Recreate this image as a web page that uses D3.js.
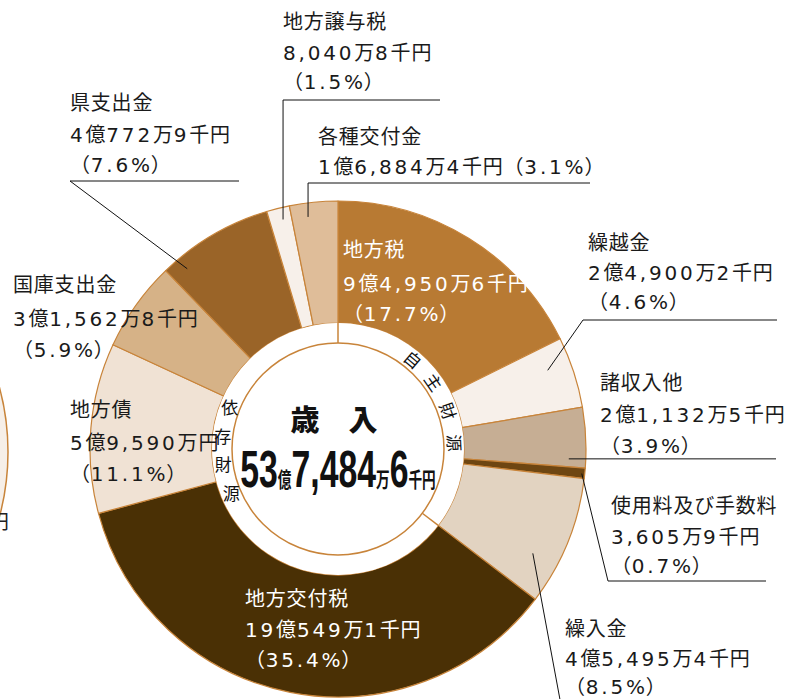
<!DOCTYPE html>
<html>
<head>
<meta charset="utf-8">
<script src="https://d3js.org/d3.v7.min.js"></script>
<style>
  body { margin: 0; background: #fff; }
  svg { display: block; }
  .lbl { font-family: "DejaVu Sans", "Noto Sans CJK JP", sans-serif; font-size: 20px; }
</style>
</head>
<body>
<div id="chart"></div>
<script>
// 歳入の内訳（千円）
const categories = ["地方税", "繰越金", "諸収入他", "使用料及び手数料", "繰入金", "地方交付税", "地方債", "国庫支出金", "県支出金", "地方譲与税", "各種交付金"];
const amounts = [949506, 249002, 211325, 36059, 454954, 1905491, 595900, 315628, 407729, 80408, 168844];
const amountLabels = ["9億4,950万6千円", "2億4,900万2千円", "2億1,132万5千円", "3,605万9千円", "4億5,495万4千円", "19億549万1千円", "5億9,590万円", "3億1,562万8千円", "4億772万9千円", "8,040万8千円", "1億6,884万4千円"];
const percents = [17.7, 4.6, 3.9, 0.7, 8.5, 35.4, 11.1, 5.9, 7.6, 1.5, 3.1];
const colors = ["#b87a33", "#f7f0ea", "#c6ae94", "#6e4612", "#e2d3c1", "#4a3005", "#f0e2d4", "#d6b287", "#9a6428", "#f7f0ea", "#dfbd99"];
const whiteText = ["地方税", "地方交付税"];
const totalLabel = ["53", "億", "7,484", "万", "6", "千円"];
const ownSourceCount = 5; // 自主財源 = 先頭5項目

const width = 800, height = 699;
const cx = 338, cy = 449;
const outerR = 248, innerR = 126, coreR = 106;
const lineColor = "#c8843a";

const svg = d3.select("#chart").append("svg")
  .attr("width", width)
  .attr("height", height);

// 数字部分は字間を広めにして元の書体の幅に近づける
function addRuns(textSel, s) {
  const runs = s.match(/[0-9,.]+|[^0-9,.]+/g);
  runs.forEach(r => {
    textSel.append("tspan")
      .attr("letter-spacing", /[0-9]/.test(r) ? 2.8 : 0.8)
      .text(r);
  });
}

// 左側に切れて見える隣のグラフ
svg.append("circle")
  .attr("cx", -240).attr("cy", 452).attr("r", outerR)
  .attr("fill", "#f6efe8")
  .attr("stroke", lineColor).attr("stroke-width", 1.5);
svg.append("text").attr("class", "lbl")
  .attr("x", 9).attr("y", 529).attr("text-anchor", "end")
  .attr("fill", "#222").text("円");

const g = svg.append("g").attr("transform", `translate(${cx},${cy})`);

const pie = d3.pie().value(d => d).sort(null).startAngle(0).endAngle(Math.PI * 2);
const arcs = pie(amounts);
const arc = d3.arc().innerRadius(innerR).outerRadius(outerR);

g.selectAll(".slice")
  .data(arcs)
  .enter().append("path")
  .attr("class", "slice")
  .attr("d", arc)
  .attr("fill", (d, i) => colors[i])
  .attr("stroke", lineColor)
  .attr("stroke-width", 1.2)
  .attr("stroke-linejoin", "round");

// 内側の白いリング
g.append("circle").attr("r", innerR).attr("fill", "#fff");
g.append("circle").attr("r", coreR).attr("fill", "#fff")
  .attr("stroke", lineColor).attr("stroke-width", 1.5);

// 自主財源 / 依存財源 の区切り線
const splitAngles = [0, arcs[ownSourceCount - 1].endAngle];
splitAngles.forEach(a => {
  g.append("line")
    .attr("x1", Math.sin(a) * coreR).attr("y1", -Math.cos(a) * coreR)
    .attr("x2", Math.sin(a) * innerR).attr("y2", -Math.cos(a) * innerR)
    .attr("stroke", lineColor).attr("stroke-width", 1.5);
});

// リング上の文字
const ringR = 116;
const ringText = [
  { chars: "自主財源", angles: [40, 55, 71, 87], rotate: true },
  { chars: "依存財源", angles: [-69, -84, -98, -113], rotate: false }
];
ringText.forEach(rt => {
  rt.chars.split("").forEach((c, k) => {
    const a = rt.angles[k] * Math.PI / 180;
    const x = Math.sin(a) * ringR, y = -Math.cos(a) * ringR;
    g.append("text")
      .attr("transform", `translate(${x},${y}) rotate(${rt.rotate ? rt.angles[k] : 0})`)
      .attr("text-anchor", "middle")
      .attr("dy", "0.36em")
      .attr("font-family", "'Noto Sans CJK JP', sans-serif")
      .attr("font-size", 17)
      .attr("fill", "#111")
      .text(c);
  });
});

// 中央のタイトル
g.append("text")
  .attr("x", -4).attr("y", -18)
  .attr("text-anchor", "middle")
  .attr("font-family", "'Noto Sans CJK JP', sans-serif")
  .attr("font-weight", 900)
  .attr("font-size", 29)
  .attr("fill", "#111")
  .text("歳　入");

const sx = 0.65;
const total = g.append("text")
  .attr("transform", `scale(${sx},1)`)
  .attr("x", 0).attr("y", 38)
  .attr("text-anchor", "middle")
  .attr("font-family", "'Liberation Sans', Arial, sans-serif")
  .attr("font-weight", "bold")
  .attr("fill", "#111");
totalLabel.forEach((t, i) => {
  const small = i % 2 === 1;
  total.append("tspan")
    .attr("font-size", small ? 21 : 52)
    .attr("font-family", small ? "'Noto Sans CJK JP', sans-serif" : null)
    .text(t);
});

// ラベル（位置はレイアウト用）
const labelLayout = [
  { x: 343, y: 257, gaps: [34, 30] },
  { x: 588, y: 250, gaps: [30, 29] },
  { x: 600, y: 390, gaps: [32, 31] },
  { x: 611, y: 513, gaps: [31, 29] },
  { x: 565, y: 636, gaps: [30, 28] },
  { x: 245, y: 606, gaps: [31, 30] },
  { x: 70, y: 417, gaps: [33, 31] },
  { x: 13, y: 292, gaps: [34, 31] },
  { x: 70, y: 110, gaps: [32, 30] },
  { x: 283, y: 29, gaps: [31, 29] },
  { x: 318, y: 144, gaps: [30] }
];

categories.forEach((name, i) => {
  const L = labelLayout[i];
  const pct = `（${percents[i]}%）`;
  const lines = L.gaps.length === 1
    ? [name, amountLabels[i] + pct]
    : [name, amountLabels[i], pct];
  const t = svg.append("text").attr("class", "lbl")
    .attr("fill", whiteText.includes(name) ? "#fff" : "#1a1a1a");
  let y = L.y;
  lines.forEach((s, k) => {
    if (k > 0) y += L.gaps[k - 1];
    const ln = t.append("tspan").attr("x", L.x).attr("y", y);
    addRuns(ln, s);
  });
});

// 引き出し線：スライス内の点から折れ線
function slicePoint(i, t, r) {
  const a = arcs[i].startAngle + (arcs[i].endAngle - arcs[i].startAngle) * t;
  return [cx + Math.sin(a) * r, cy - Math.cos(a) * r];
}
const leaders = [
  { i: 9, t: 0.6, r: 236, path: p => [p, [p[0], 100], [440, 100]] },
  { i: 10, t: 0.35, r: 234, path: p => [p, [p[0], 183], [590, 183]] },
  { i: 8, t: 0.15, r: 235, path: p => [p, [70, 181], [239, 181]] },
  { i: 1, t: 0.35, r: 224, path: p => [p, [583, 320], [777, 320]] },
  { i: 2, t: 0.86, r: 231, path: p => [p, [776, p[1]]] },
  { i: 3, t: 0.55, r: 245, path: p => [p, [608, 581], [766, 581]] },
  { i: 4, t: 0.7, r: 221, path: p => [p, [561, 705]] }
];
const line = d3.line();
leaders.forEach(l => {
  const p = slicePoint(l.i, l.t, l.r);
  svg.append("path")
    .attr("d", line(l.path(p)))
    .attr("fill", "none")
    .attr("stroke", "#111")
    .attr("stroke-width", 1);
});
</script>
</body>
</html>
